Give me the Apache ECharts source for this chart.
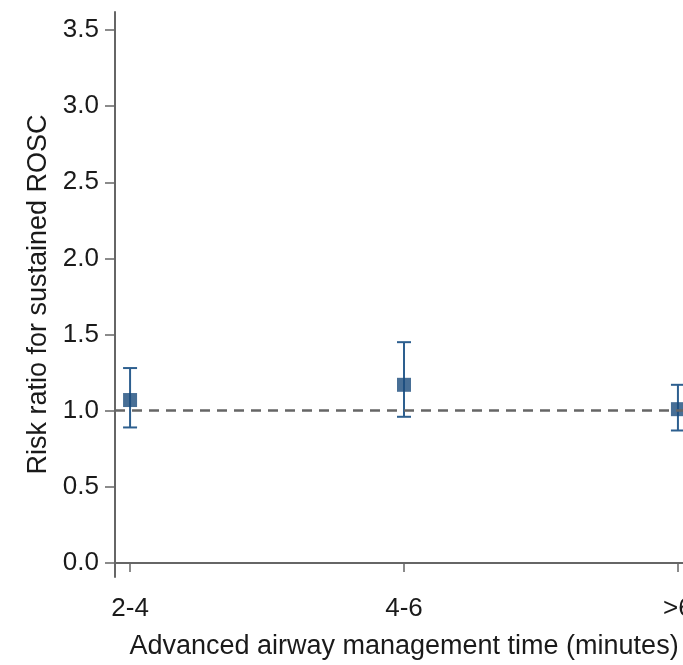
<!DOCTYPE html>
<html>
<head>
<meta charset="utf-8">
<script src="https://cdn.jsdelivr.net/npm/echarts@6/dist/echarts.min.js"></script>
<style>html,body{margin:0;padding:0;background:#fff;overflow:hidden;}#c{width:683px;height:665px;}</style>
</head>
<body>
<div id="c"></div>
<script>
const categories = ['2-4', '4-6', '>6'];
const estimates = [1.07, 1.17, 1.01];
const lowerCI = [0.89, 0.96, 0.87];
const upperCI = [1.28, 1.45, 1.17];
const yTicks = [0, 0.5, 1.0, 1.5, 2.0, 2.5, 3.0, 3.5];
const referenceValue = 1.0;
const xPositions = [1, 2, 3];

const chart = echarts.init(document.getElementById('c'));
const textColor = '#1a1a1a';
const axisColor = '#666';

chart.setOption({
  animation: false,
  backgroundColor: '#fff',
  grid: { left: 115, top: 12, width: 578, bottom: 88, containLabel: false, outerBoundsMode: 'none' },
  xAxis: {
    type: 'value', min: 0.945, max: 3.055,
    name: 'Advanced airway management time (minutes)',
    nameLocation: 'middle', nameGap: 56,
    nameTextStyle: { fontFamily: 'Liberation Sans', fontSize: 27, color: textColor },
    axisLine: { show: true, lineStyle: { color: axisColor, width: 2 } },
    axisTick: { show: true, length: 9, lineStyle: { color: axisColor, width: 1.5 }, customValues: xPositions },
    axisLabel: { customValues: xPositions, margin: 19, fontFamily: 'Liberation Sans', fontSize: 26, color: textColor,
      hideOverlap: false, formatter: v => categories[Math.round(v) - 1] },
    splitLine: { show: false }
  },
  yAxis: {
    type: 'value', min: -0.092, max: 3.618,
    name: 'Risk ratio for sustained ROSC',
    nameLocation: 'middle', nameGap: 61, nameRotate: 90,
    nameTextStyle: { fontFamily: 'Liberation Sans', fontSize: 27, color: textColor },
    axisLine: { show: true, lineStyle: { color: axisColor, width: 2 } },
    axisTick: { show: true, length: 10, lineStyle: { color: axisColor, width: 1.5 }, customValues: yTicks },
    axisLabel: { customValues: yTicks, margin: 16, fontFamily: 'Liberation Sans', fontSize: 26, color: textColor,
      formatter: v => v.toFixed(1) },
    splitLine: { show: false }
  },
  series: [
    {
      type: 'line', data: [],
      markLine: {
        silent: true, symbol: 'none', label: { show: false },
        lineStyle: { color: '#666', width: 2.6, type: [10, 7] },
        data: [{ yAxis: referenceValue }]
      }
    },
    {
      type: 'custom',
      data: xPositions.map((x, i) => [x, lowerCI[i], upperCI[i]]),
      renderItem: (params, api) => {
        const x = api.value(0);
        const lo = api.coord([x, api.value(1)]);
        const hi = api.coord([x, api.value(2)]);
        const cap = 7;
        const style = { stroke: '#2d5f8f', lineWidth: 2 };
        return {
          type: 'group',
          children: [
            { type: 'line', shape: { x1: lo[0], y1: lo[1], x2: hi[0], y2: hi[1] }, style },
            { type: 'line', shape: { x1: hi[0] - cap, y1: hi[1], x2: hi[0] + cap, y2: hi[1] }, style },
            { type: 'line', shape: { x1: lo[0] - cap, y1: lo[1], x2: lo[0] + cap, y2: lo[1] }, style }
          ]
        };
      },
      z: 3
    },
    {
      type: 'scatter',
      data: xPositions.map((x, i) => [x, estimates[i]]),
      symbol: 'rect', symbolSize: 14,
      itemStyle: { color: '#1a4b7c' },
      z: 4
    }
  ]
});
</script>
</body>
</html>
